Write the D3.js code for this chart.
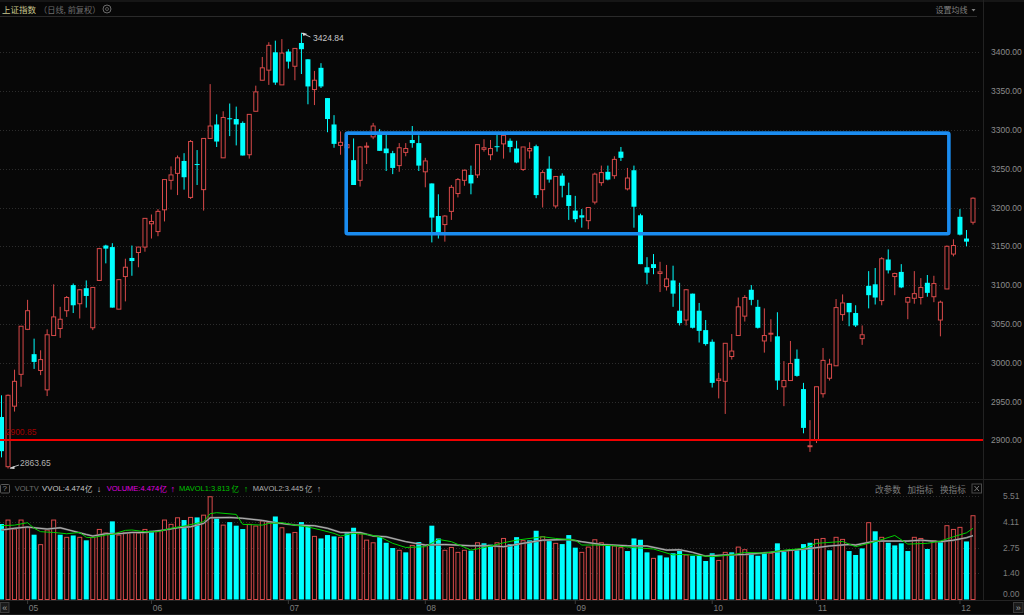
<!DOCTYPE html>
<html>
<head>
<meta charset="utf-8">
<script src="https://cdn.jsdelivr.net/npm/d3@7"></script>
<style>
  html, body { margin: 0; padding: 0; background: #070707; overflow: hidden; }
  svg { display: block; }
  text { font-family: "Liberation Sans", Arial, sans-serif; }
  .cjk { font-family: "Noto Sans CJK SC", sans-serif; }
</style>
</head>
<body>
<div id="chart"></div>
<script>
// daily index values
const opens = [2930,2866,2944,2985,3043,3011,2990,2965,3035,3044,3067,3100,3076,3096,3045,3106,3151,3149,3069,3111,
  3135,3142,3149,3179,3169,3197,3235,3244,3260,3213,3256,3223,3289,3307,3264,3315,3314,3309,3268,3324,
  3364,3377,3400,3358,3401,3382,3412,3391,3352,3380,3341,3307,3280,3277,3261,3235,3278,3291,3296,3276,
  3270,3254,3271,3287,3283,3246,3231,3189,3178,3195,3218,3235,3242,3242,3275,3268,3279,3282,3286,3276,
  3249,3273,3279,3223,3250,3202,3241,3216,3196,3190,3183,3207,3232,3246,3241,3272,3224,3248,3190,3123,
  3127,3115,3098,3106,3067,3055,3089,3067,3042,3027,2977,2976,3008,3035,3060,3094,3072,3028,3037,3034,
  2969,2977,3005,2966,2892.5,2900,2960,2980,2996,3062,3077,3064,3031,3099,3101,3080,3133,3111,3117,3078,
  3083,3084,3103,3085,3055,3095,3140,3188,3160,3181];
const highs = [2958,2959,2991,3047,3081,3031,3016,3043,3101,3072,3086,3102,3095,3106,3097,3148,3152,3154,3107,3134,
  3151,3149,3186,3191,3198,3236,3253,3267,3270,3287,3274,3289,3359,3320,3324,3334,3330,3311,3320,3357,
  3394,3413,3415,3417,3404,3405,3424.84,3391,3376,3386,3341,3319,3298,3283,3289,3279,3284,3309,3301,3294,
  3273,3283,3283,3305,3293,3264,3231,3217,3190,3229,3238,3249,3254,3281,3288,3287,3295,3293,3289,3286,
  3278,3284,3281,3248,3266,3240,3244,3232,3215,3198,3200,3245,3254,3254,3266,3278,3251,3254,3192,3136,
  3140,3130,3126,3125,3103,3095,3089,3077,3055,3030,2987,3025,3037,3084,3087,3100,3081,3070,3056,3065,
  3002,3028,3017,2974,2926,2969,3019,3005,3082,3088,3077,3074,3048,3118,3122,3136,3146,3116,3127,3085,
  3118,3109,3113,3112,3080,3151,3159,3198,3171,3213];
const lows = [2878,2863.65,2937,2969,3042,2992,2984,2957,3035,3032,3059,3064,3057,3071,3042,3106,3128,3071,3069,3079,
  3112,3123,3143,3160,3163,3182,3223,3216,3223,3211,3229,3196,3289,3278,3264,3292,3280,3267,3263,3324,
  3364,3358,3358,3358,3379,3364,3372,3333,3332,3354,3297,3277,3268,3276,3229,3227,3256,3288,3273,3247,
  3243,3246,3266,3277,3247,3226,3155,3160,3156,3184,3213,3228,3217,3238,3272,3261,3272,3263,3271,3257,
  3247,3263,3212,3200,3232,3199,3213,3184,3181,3174,3172,3204,3228,3235,3237,3260,3222,3174,3127,3101,
  3114,3091,3093,3072,3048,3048,3044,3026,3022,2968,2954,2934,3004,3035,3053,3074,3044,3013,3027,2965,
  2944,2977,2982,2909,2885,2896.5,2955,2977,2996,3054,3047,3046,3023,3070,3075,3074,3115,3087,3096,3056,
  3076,3075,3085,3078,3034,3095,3137,3164,3150,3178];
const closes = [2886,2958,2976,3047,3067,3001,3004,3036,3059,3056,3084,3074,3094,3086,3097,3147,3147,3071,3107,3123,
  3131,3149,3186,3182,3195,3236,3242,3264,3239,3285,3255,3289,3305,3285,3316,3314,3307,3267,3320,3349,
  3380,3409,3361,3399,3388,3405,3404,3356,3364,3356,3314,3282,3284,3281,3229,3278,3279,3305,3273,3270,
  3251,3277,3276,3283,3254,3260,3187,3167,3189,3226,3236,3248,3231,3281,3277,3276,3278,3293,3278,3258,
  3278,3276,3216,3245,3236,3240,3228,3202,3185,3187,3200,3243,3245,3236,3262,3264,3238,3201,3127,3116,
  3122,3117,3108,3089,3051,3094,3045,3041,3024,2974,2979,3025,3015,3072,3084,3081,3045,3035,3038,2977,
  2977,2999,2983,2916,2893,2969,3003,2998,3071,3077,3065,3048,3036,3087,3084,3134,3119,3115,3097,3084,
  3089,3097,3090,3102,3078,3150,3151,3165,3156,3212];

const volumes = [4.02,4.23,3.75,4.23,3.84,3.45,2.92,3.70,4.23,3.45,3.31,3.41,3.31,3.15,3.31,3.73,3.54,4.16,3.43,3.57,
  3.57,3.54,3.73,3.66,3.66,4.23,4.00,4.35,4.23,4.37,4.37,4.49,5.47,4.32,3.96,4.12,3.93,3.75,4.00,3.91,
  4.18,4.10,4.42,3.82,3.52,3.57,4.12,3.93,3.36,3.25,3.43,3.36,3.31,3.57,3.82,3.50,3.16,3.02,3.32,3.02,
  2.74,2.62,2.51,2.88,3.06,2.90,3.93,3.25,2.62,2.77,2.51,2.62,2.60,3.02,2.99,2.92,3.02,3.25,2.95,3.32,
  3.13,3.15,3.66,3.34,3.11,2.99,2.95,3.43,2.76,2.51,2.79,3.18,3.02,2.88,2.85,2.76,2.58,3.25,3.18,2.51,
  2.19,2.35,2.24,2.46,2.63,2.37,2.33,2.33,2.05,2.46,2.08,2.51,2.51,2.79,2.65,2.46,2.33,2.46,2.46,2.99,
  2.54,2.65,2.65,2.95,3.02,3.20,3.25,2.62,3.31,3.20,2.58,2.37,2.72,4.09,3.63,3.31,3.02,2.88,2.99,2.58,
  3.31,3.25,2.69,3.13,3.06,3.93,3.73,3.84,3.09,4.46];
// days whose volume bar is solid cyan (close under the previous close)
const volumeDownDays = [0,5,9,11,13,17,23,28,30,33,35,36,37,42,44,46,47,49,50,51,53,54,58,59,60,62,64,66,67,72,74,75,78,79,
  81,82,84,86,87,88,93,96,97,98,99,101,102,103,104,106,107,108,109,112,115,116,117,119,120,122,123,124,127,130,131,132,
  134,136,137,138,139,142,144,148];

const mavol1Days = [0,2,4,5,6,8,10,12,13,14,16,17,19,20,22,24,26,28,31,32,33,36,37,40,41,43,45,47,49,51,52,54,56,58,60,62,65,67,69,72,74,77,79,83,85,88,89,91,94,97,100,103,104,106,109,112,114,117,120,123,125,129,131,134,137,139,142,144,146,148,149];
const mavol1 = [3.93,3.96,4.09,3.79,3.61,3.57,3.50,3.57,3.31,3.29,3.43,3.47,3.68,3.70,3.61,3.61,3.79,3.91,4.14,4.57,4.62,4.53,4.00,3.96,4.05,4.09,3.96,3.86,3.70,3.52,3.38,3.52,3.47,3.34,2.99,2.77,2.81,3.20,3.08,2.63,2.76,3.02,3.16,3.34,3.25,3.16,2.90,2.90,2.86,2.76,2.69,2.37,2.40,2.37,2.28,2.37,2.51,2.47,2.62,2.72,2.99,3.09,2.81,3.08,3.41,2.95,2.99,3.11,3.34,3.55,3.79];
const mavol2Days = [0,2,4,5,7,9,11,13,14,16,18,20,22,25,27,29,31,32,35,37,40,42,45,48,50,52,55,57,59,62,65,68,72,75,77,80,83,87,89,92,96,99,102,104,106,108,111,114,118,121,124,127,130,131,134,139,141,144,146,148,149];
const mavol2 = [3.70,3.79,3.86,3.82,3.75,3.82,3.64,3.46,3.38,3.50,3.50,3.57,3.57,3.70,3.82,3.87,4.05,4.35,4.37,4.32,4.21,4.09,3.96,3.93,3.79,3.57,3.57,3.38,3.34,3.08,2.90,2.93,2.86,2.86,2.81,2.99,3.16,3.20,3.08,2.93,2.86,2.85,2.63,2.65,2.51,2.31,2.37,2.40,2.51,2.62,2.72,2.85,2.93,2.90,3.11,3.11,3.16,3.08,3.16,3.29,3.40];

const priceTicks = [3400,3350,3300,3250,3200,3150,3100,3050,3000,2950,2900];
const volumeTicks = [5.51,4.11,2.75,1.40];
const monthLabels = ['05','06','07','08','09','10','11','12'];
const monthDays = [4,23,44,65,88,109,125,147];
const boxDays = [52.87,145.3];
const boxPrices = [3295.9,3166.2];
const supportPrice = 2900.85;

const W = 1024, H = 615;
const BG = '#070707', RED = '#d84a4a', CYAN = '#00ffff', GRID = '#2c2c2c', MUTED = '#7c7c7c';

const x = d3.scaleLinear().domain([0, 149]).range([1.5, 973]);
const y = d3.scaleLinear().domain([2900, 3400]).range([440.3, 52.3]);
const yVol = d3.scaleLinear().domain([0, 5.51]).range([599.5, 496]);

const svg = d3.select('#chart').append('svg').attr('width', W).attr('height', H);
svg.append('rect').attr('width', W).attr('height', H).attr('fill', BG);

function label(px, py, str, color, size, anchor) {
  return svg.append('text')
    .attr('x', px).attr('y', py)
    .attr('fill', color).attr('font-size', (size || 8.5) + 'px')
    .attr('dominant-baseline', 'central')
    .attr('text-anchor', anchor || 'start')
    .text(str);
}
function cjk(px, py, str, color, size) {
  return svg.append('text').attr('class', 'cjk')
    .attr('x', px).attr('y', py)
    .attr('fill', color).attr('font-size', (size || 8) + 'px')
    .attr('dominant-baseline', 'central')
    .text(str);
}
function hline(x1, x2, yy, color) {
  svg.append('line').attr('x1', x1).attr('x2', x2).attr('y1', yy).attr('y2', yy).attr('stroke', color);
}

// frame
svg.append('rect').attr('width', W).attr('height', 2).attr('fill', '#161616');
hline(0, 977, 16.5, '#2a2a2a');
hline(0, W, 479.5, '#222222');
hline(0, W, 600.5, '#242424');
hline(0, W, 614.5, '#1c1c1c');
svg.append('line').attr('x1', 983.5).attr('x2', 983.5).attr('y1', 0).attr('y2', 600).attr('stroke', '#222222');

// grid
svg.append('g').selectAll('line').data(priceTicks.slice(0, 10)).join('line')
  .attr('x1', 0).attr('x2', 980)
  .attr('y1', d => Math.round(y(d)) + 0.5).attr('y2', d => Math.round(y(d)) + 0.5)
  .attr('stroke', GRID).attr('stroke-dasharray', '1 2');
svg.append('g').selectAll('line').data(volumeTicks).join('line')
  .attr('x1', 0).attr('x2', 980)
  .attr('y1', d => Math.round(yVol(d)) + 0.5).attr('y2', d => Math.round(yVol(d)) + 0.5)
  .attr('stroke', GRID).attr('stroke-dasharray', '1 2');

// candles
const days = d3.range(opens.length);
const isUp = i => closes[i] >= opens[i];
const candles = svg.append('g');
candles.selectAll('.wick').data(days).join('line')
  .attr('class', 'wick')
  .attr('x1', i => x(i)).attr('x2', i => x(i))
  .attr('y1', i => y(highs[i])).attr('y2', i => y(lows[i]))
  .attr('stroke', i => isUp(i) ? RED : CYAN);
candles.selectAll('.body').data(days).join('rect')
  .attr('class', 'body')
  .attr('x', i => isUp(i) ? x(i) - 2 : x(i) - 2.5)
  .attr('width', i => isUp(i) ? 4 : 5)
  .attr('y', i => y(Math.max(opens[i], closes[i])))
  .attr('height', i => Math.max(1, Math.abs(y(opens[i]) - y(closes[i]))))
  .attr('fill', i => isUp(i) ? BG : CYAN)
  .attr('stroke', i => isUp(i) ? RED : 'none');

// volume bars
const downSet = new Set(volumeDownDays);
svg.append('g').selectAll('rect').data(days).join('rect')
  .attr('x', i => downSet.has(i) ? x(i) - 2.5 : x(i) - 2)
  .attr('width', i => downSet.has(i) ? 5 : 4)
  .attr('y', i => yVol(volumes[i]))
  .attr('height', i => yVol(0) - yVol(volumes[i]))
  .attr('fill', i => downSet.has(i) ? CYAN : BG)
  .attr('stroke', i => downSet.has(i) ? 'none' : RED);

// volume averages
const maLine = (dayList, vals) => d3.line().x((d, i) => x(dayList[i])).y(d => yVol(d))(vals);
svg.append('path').attr('d', maLine(mavol2Days, mavol2)).attr('fill', 'none').attr('stroke', '#5e5e5e').attr('stroke-width', 2);
svg.append('path').attr('d', maLine(mavol2Days, mavol2)).attr('fill', 'none').attr('stroke', '#c8c8c8').attr('stroke-width', 0.8);
svg.append('path').attr('d', maLine(mavol1Days, mavol1)).attr('fill', 'none').attr('stroke', '#00d000').attr('stroke-width', 1);

// support level and the highlight box
svg.append('line')
  .attr('x1', 0).attr('x2', 983)
  .attr('y1', y(supportPrice) + 0.3).attr('y2', y(supportPrice) + 0.3)
  .attr('stroke', '#f00000').attr('stroke-width', 2);
svg.append('rect')
  .attr('x', x(boxDays[0])).attr('width', x(boxDays[1]) - x(boxDays[0]))
  .attr('y', y(boxPrices[0])).attr('height', y(boxPrices[1]) - y(boxPrices[0]))
  .attr('rx', 1.5)
  .attr('fill', 'none').attr('stroke', '#1a8cf0').attr('stroke-width', 3.6);

// price axis
priceTicks.forEach(p => label(991, y(p), p.toFixed(2), '#8c8c8c'));
volumeTicks.forEach(v => label(1003, yVol(v), v.toFixed(2), '#7c7c7c'));
label(1003, 593.7, '0.00', '#7c7c7c');

// high, low and support labels
label(313, 37.5, '3424.84', '#c8c8c8');
svg.append('path').attr('d', `M${x(46)},33 L${x(46) + 9},37`).attr('stroke', '#c0c0c0').attr('fill', 'none');
svg.append('path').attr('d', `M${x(46) + 1},32.5 l5,1.5 l-4,2 z`).attr('fill', '#d8d8d8');
label(20, 463, '2863.65', '#b0b0b0');
svg.append('path').attr('d', `M${x(1) + 2},468 L19,465`).attr('stroke', '#b0b0b0').attr('fill', 'none');
svg.append('path').attr('d', `M${x(1) + 1.5},468.5 l5,-2.5 l0,3 z`).attr('fill', '#d8d8d8');
label(5.7, 432.3, '2900.85', '#a00000');

// title bar
cjk(2, 9, '上证指数', '#c9c98f', 8.5);
cjk(39, 9, '（日线, 前复权）', '#6e6e6e', 8.2);
svg.append('circle').attr('cx', 107).attr('cy', 9).attr('r', 4).attr('fill', 'none').attr('stroke', '#6a6a6a').attr('stroke-width', 1);
svg.append('circle').attr('cx', 107).attr('cy', 9).attr('r', 1.5).attr('fill', 'none').attr('stroke', '#6a6a6a').attr('stroke-width', 0.8);
cjk(935.5, 9.5, '设置均线', '#808080', 8);
svg.append('path').attr('d', 'M971.5,9 h4 l-2,2.5 z').attr('fill', '#808080');

// indicator header
svg.append('rect').attr('x', 0.5).attr('y', 484.5).attr('width', 9).attr('height', 8.5).attr('rx', 1).attr('fill', 'none').attr('stroke', '#5a5a5a');
label(4.8, 488.5, '?', '#8a8a8a', 8, 'middle');
label(14.7, 488.5, 'VOLTV', '#6e6e6e', 7.5);
label(42, 488.5, 'VVOL:4.474', '#c8c8c8', 7.8);
cjk(85, 488.5, '亿', '#c8c8c8', 7.5);
label(99, 488.5, '↓', '#c8c8c8', 9, 'middle');
label(106.7, 488.5, 'VOLUME:4.474', '#e000e0', 7.5);
cjk(159.5, 488.5, '亿', '#e000e0', 7.5);
label(172.7, 488.5, '↑', '#e000e0', 9, 'middle');
label(179, 488.5, 'MAVOL1:3.813', '#00c000', 7.5);
cjk(231.5, 488.5, '亿', '#00c000', 7.5);
label(246, 488.5, '↑', '#00c000', 9, 'middle');
label(252.7, 488.5, 'MAVOL2:3.445', '#b0b0b0', 7.5);
cjk(305, 488.5, '亿', '#b0b0b0', 7.5);
label(319, 488.5, '↑', '#b0b0b0', 9, 'middle');

cjk(875, 488.5, '改参数', MUTED, 8.6);
cjk(907.5, 488.5, '加指标', MUTED, 8.6);
cjk(940, 488.5, '换指标', MUTED, 8.6);
svg.append('rect').attr('x', 972).attr('y', 484).attr('width', 9.5).attr('height', 9).attr('fill', 'none').attr('stroke', '#4a4a4a');
svg.append('path').attr('d', 'M974.5,486 l4.5,5 m0,-5 l-4.5,5').attr('stroke', '#7a7a7a').attr('fill', 'none');

// month axis
monthDays.forEach((d, i) => {
  svg.append('line').attr('x1', x(d)).attr('x2', x(d)).attr('y1', 600).attr('y2', 604).attr('stroke', '#3a3a3a');
  label(x(d) + 6, 608, monthLabels[i], '#7c7c7c', 8.5, 'middle');
});

// scroll buttons
svg.append('rect').attr('x', 0.5).attr('y', 602.5).attr('width', 8.5).attr('height', 10).attr('fill', '#1a1a1a').attr('stroke', '#3a3a3a');
label(4.8, 607.5, '«', '#9a9a9a', 9, 'middle');
svg.append('rect').attr('x', 1013.5).attr('y', 602.5).attr('width', 9.5).attr('height', 10).attr('fill', '#1a1a1a').attr('stroke', '#3a3a3a');
label(1018.3, 607.5, '»', '#9a9a9a', 9, 'middle');
</script>
</body>
</html>
